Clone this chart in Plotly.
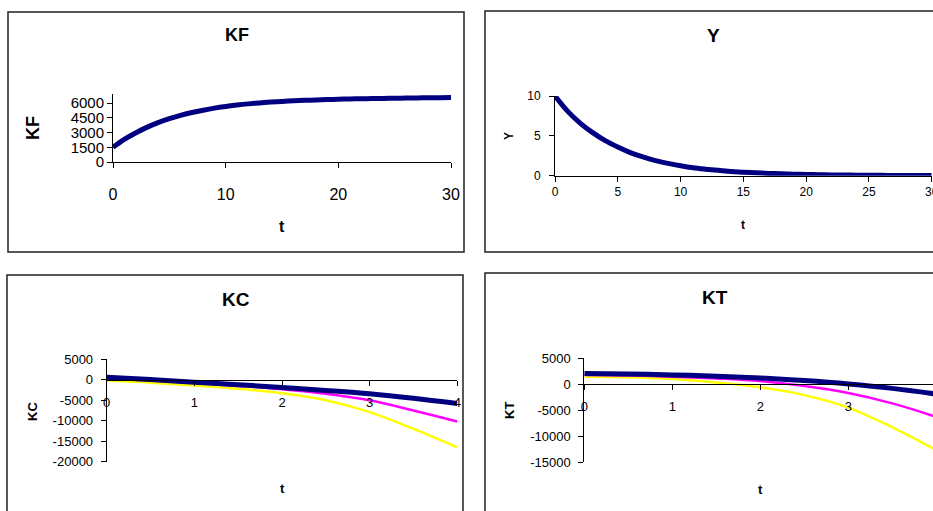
import plotly.graph_objects as go

W, H = 933, 511

# ---------------- data ----------------
t_long = list(range(31))
KF = [1500, 2300, 2950, 3520, 4000, 4400, 4750, 5030, 5270, 5480, 5650,
      5790, 5910, 6010, 6090, 6160, 6220, 6270, 6310, 6350, 6380,
      6410, 6430, 6450, 6470, 6490, 6500, 6520, 6530, 6540, 6550]
Y = [10, 8.1, 6.6, 5.4, 4.4, 3.6, 2.9, 2.35, 1.9, 1.55, 1.25,
     1.0, 0.82, 0.67, 0.54, 0.44, 0.36, 0.29, 0.24, 0.19, 0.16,
     0.13, 0.1, 0.085, 0.07, 0.055, 0.045, 0.035, 0.03, 0.025, 0.02]

t_short = [0, 0.5, 1, 1.5, 2, 2.5, 3, 3.5, 4]
KC_navy = [600, 50, -600, -1200, -1900, -2600, -3400, -4500, -5800]
KC_magenta = [300, -200, -800, -1500, -2300, -3400, -5000, -7500, -10200]
KC_yellow = [-200, -700, -1400, -2200, -3300, -5000, -7900, -12000, -16500]

KT_navy = [2050, 1980, 1800, 1550, 1200, 700, 50, -800, -1900]
KT_magenta = [1800, 1700, 1450, 1100, 600, -350, -1700, -3700, -6300]
KT_yellow = [1450, 1350, 1000, 350, -600, -2100, -4500, -8300, -12700]

KF_ticks = [0, 1500, 3000, 4500, 6000]
KC_ticks = [5000, 0, -5000, -10000, -15000, -20000]
KT_ticks = [5000, 0, -5000, -10000, -15000]

NAVY = "#000080"
MAGENTA = "#FF00FF"
YELLOW = "#FFFF00"
FONT = "Arial, Liberation Sans, sans-serif"


def px(x):
    return x / W


def py(y):
    return 1 - y / H


fig = go.Figure()

# traces
fig.add_trace(go.Scatter(x=t_long, y=KF, mode="lines", line=dict(color=NAVY, width=5, shape="spline"),
                         xaxis="x", yaxis="y"))
fig.add_trace(go.Scatter(x=t_long, y=Y, mode="lines", line=dict(color=NAVY, width=5, shape="spline"),
                         xaxis="x2", yaxis="y2"))
for vals, col, w in [(KC_yellow, YELLOW, 2.5), (KC_magenta, MAGENTA, 2.5), (KC_navy, NAVY, 5)]:
    fig.add_trace(go.Scatter(x=t_short, y=vals, mode="lines", line=dict(color=col, width=w, shape="spline"),
                             xaxis="x3", yaxis="y3"))
for vals, col, w in [(KT_yellow, YELLOW, 2.5), (KT_magenta, MAGENTA, 2.5), (KT_navy, NAVY, 5)]:
    fig.add_trace(go.Scatter(x=t_short, y=vals, mode="lines", line=dict(color=col, width=w, shape="spline"),
                             xaxis="x4", yaxis="y4"))

axcommon = dict(showgrid=False, zeroline=False, showline=True, linecolor="black", linewidth=1,
                ticks="outside", tickcolor="black", ticklen=5, tickwidth=1, automargin=False)


def labels(vals):
    return [str(v) for v in vals]


layout = dict(
    width=W, height=H, margin=dict(l=0, r=0, t=0, b=0, pad=0, autoexpand=False),
    paper_bgcolor="white", plot_bgcolor="rgba(0,0,0,0)",
    showlegend=False, hovermode=False,
    font=dict(family=FONT, color="black"),
    # KF
    xaxis=dict(**axcommon, domain=[px(113), px(451)], range=[0, 30], tickvals=[0, 10, 20, 30],
               anchor="y", tickfont=dict(size=16), ticklabelstandoff=13),
    yaxis=dict(**axcommon, domain=[py(162), py(94)], range=[0, 6915],
               tickvals=KF_ticks, ticktext=labels(KF_ticks), anchor="x",
               tickfont=dict(size=15), ticklabelstandoff=0),
    # Y
    xaxis2=dict(**axcommon, domain=[px(555), px(931.7)], range=[0, 30], tickvals=[0, 5, 10, 15, 20, 25, 30],
                anchor="y2", tickfont=dict(size=12), ticklabelstandoff=0, ticklabeloverflow="allow"),
    yaxis2=dict(**axcommon, domain=[py(175.7), py(96)], range=[0, 10], tickvals=[0, 5, 10],
                anchor="x2", tickfont=dict(size=12), ticklabelstandoff=6),
    # KC
    xaxis3=dict(**axcommon, domain=[px(106.7), px(457.3)], range=[0, 4], tickvals=[0, 1, 2, 3, 4],
                anchor="free", position=py(380), tickfont=dict(size=13), ticklabelstandoff=5),
    yaxis3=dict(**axcommon, domain=[py(461.7), py(359.3)], range=[-20000, 5000],
                tickvals=KC_ticks, ticktext=labels(KC_ticks), anchor="x3",
                tickfont=dict(size=13), ticklabelstandoff=5),
    # KT
    xaxis4=dict(**axcommon, domain=[px(584.3), 1.0], range=[0, 4 * (933 - 584.3) / (936.3 - 584.3)],
                tickvals=[0, 1, 2, 3, 4], anchor="free", position=py(384),
                tickfont=dict(size=13), ticklabelstandoff=5),
    yaxis4=dict(**axcommon, domain=[py(462), py(358.3)], range=[-15000, 5000],
                tickvals=KT_ticks, ticktext=labels(KT_ticks), anchor="x4",
                tickfont=dict(size=13), ticklabelstandoff=5),
)
fig.update_layout(**layout)

# panel borders
boxes = [(8, 12, 464, 252), (485, 11, 940, 252), (7, 275, 463, 520), (485, 273, 940, 520)]
for x0, y0, x1, y1 in boxes:
    fig.add_shape(type="rect", xref="paper", yref="paper", x0=px(x0), x1=px(x1), y0=py(y0), y1=py(y1),
                  line=dict(color="#222222", width=1.5), fillcolor="rgba(0,0,0,0)", layer="below")

# titles and axis titles
texts = [
    ("KF", 236.7, 35, 18, 0), ("Y", 713.3, 35, 19, 0), ("KC", 236, 299, 19, 0), ("KT", 715, 297, 19, 0),
    ("t", 282, 226, 16, 0), ("t", 742.7, 225, 12, 0), ("t", 282, 488, 13, 0), ("t", 760.7, 489, 13, 0),
    ("KF", 33, 128, 18, -90), ("Y", 509, 136, 12, -90), ("KC", 32, 412, 13, -90), ("KT", 509, 411, 13, -90),
]
for txt, x, y, size, ang in texts:
    fig.add_annotation(text="<b>%s</b>" % txt, x=px(x), y=py(y), xref="paper", yref="paper",
                       showarrow=False, xanchor="center", yanchor="middle", textangle=ang,
                       font=dict(size=size, family=FONT, color="black"))

fig.write_html("out.html", post_script="document.body.style.margin='0';document.body.style.overflow='hidden';")
